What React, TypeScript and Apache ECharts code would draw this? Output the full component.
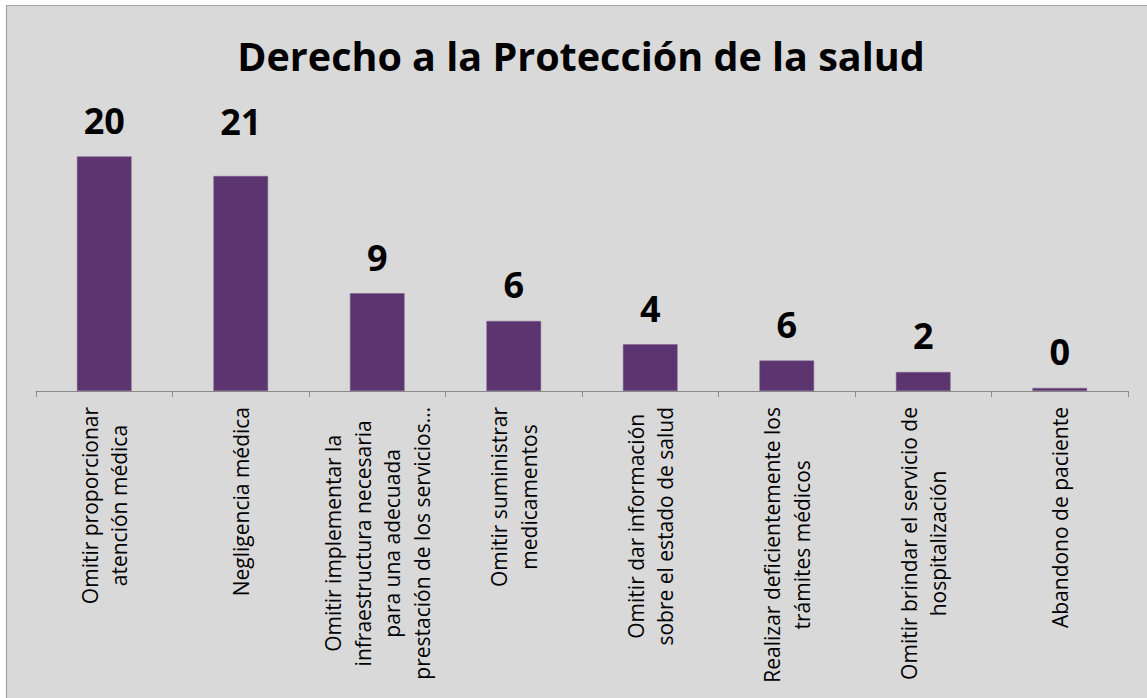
import React, { useEffect, useRef } from "react";
import * as echarts from "echarts";

const TITLE = "Derecho a la Protección de la salud";

const categories: string[] = [
  "Omitir proporcionar\natención médica",
  "Negligencia médica",
  "Omitir implementar la\ninfraestructura necesaria\npara una adecuada\nprestación de los servicios…",
  "Omitir suministrar\nmedicamentos",
  "Omitir dar información\nsobre el estado de salud",
  "Realizar deficientemente los\ntrámites médicos",
  "Omitir brindar el servicio de\nhospitalización",
  "Abandono de paciente",
];

// bar lengths as drawn in the picture
const barValues: number[] = [21.6, 19.8, 9, 6.45, 4.3, 2.8, 1.75, 0.28];

// value labels as printed above the bars
const valueLabels: string[] = ["20", "21", "9", "6", "4", "6", "2", "0"];

export default function App() {
  const ref = useRef<HTMLDivElement>(null);

  useEffect(() => {
    if (!ref.current) return;
    const chart = echarts.init(ref.current, undefined, { renderer: "svg" });
    const option: any = {
      animation: false,
      backgroundColor: "#ffffff",
      graphic: [
        {
          type: "rect",
          z: -10,
          silent: true,
          shape: { x: 6.5, y: 5.5, width: 1300, height: 900 },
          style: { fill: "#d9d9d9", stroke: "#a3a3a3", lineWidth: 1.2 },
        },
      ],
      title: {
        text: TITLE,
        left: 576,
        textAlign: "center",
        top: 28,
        textStyle: {
          fontFamily: "Open Sans",
          fontWeight: "bold",
          fontSize: 39.5,
          color: "#000000",
          lineHeight: 46,
        },
      },
      grid: { left: 36, right: 19, top: 119.5, bottom: 307, containLabel: false },
      xAxis: {
        type: "category",
        data: categories,
        boundaryGap: true,
        axisLine: { show: true, lineStyle: { color: "#8a8a8a", width: 1 } },
        axisTick: { show: true, length: 6, alignWithLabel: false, lineStyle: { color: "#8a8a8a" } },
        axisLabel: {
          interval: 0,
          rotate: 90,
          margin: 16,
          hideOverlap: false,
          formatter: (v: string) =>
            v
              .split("\n")
              .map((l) => `{c|${l}}`)
              .join("\n"),
          rich: {
            c: {
              align: "center",
              fontFamily: "Open Sans",
              fontSize: 21,
              lineHeight: 29.5,
              color: "#000000",
            },
          },
        },
        splitLine: { show: false },
      },
      yAxis: {
        type: "value",
        min: 0,
        max: 25,
        show: false,
        splitLine: { show: false },
      },
      series: [
        {
          type: "bar",
          barCategoryGap: "60%",
          data: barValues.map((v, i) => ({
            value: v,
            label: i === 1 ? { offset: [0, -18] } : undefined,
          })),
          itemStyle: { color: "#5c3570", borderColor: "#7a6088", borderWidth: 0.5 },
          label: {
            show: true,
            position: "top",
            distance: 18,
            formatter: (p: any) => valueLabels[p.dataIndex],
            fontFamily: "Open Sans",
            fontWeight: "bold",
            fontSize: 36,
            color: "#000000",
          },
        },
      ],
    };
    chart.setOption(option);
    return () => chart.dispose();
  }, []);

  return (
    <div
      ref={ref}
      style={{ position: "absolute", left: 0, top: 0, width: 1147, height: 698 }}
    />
  );
}
